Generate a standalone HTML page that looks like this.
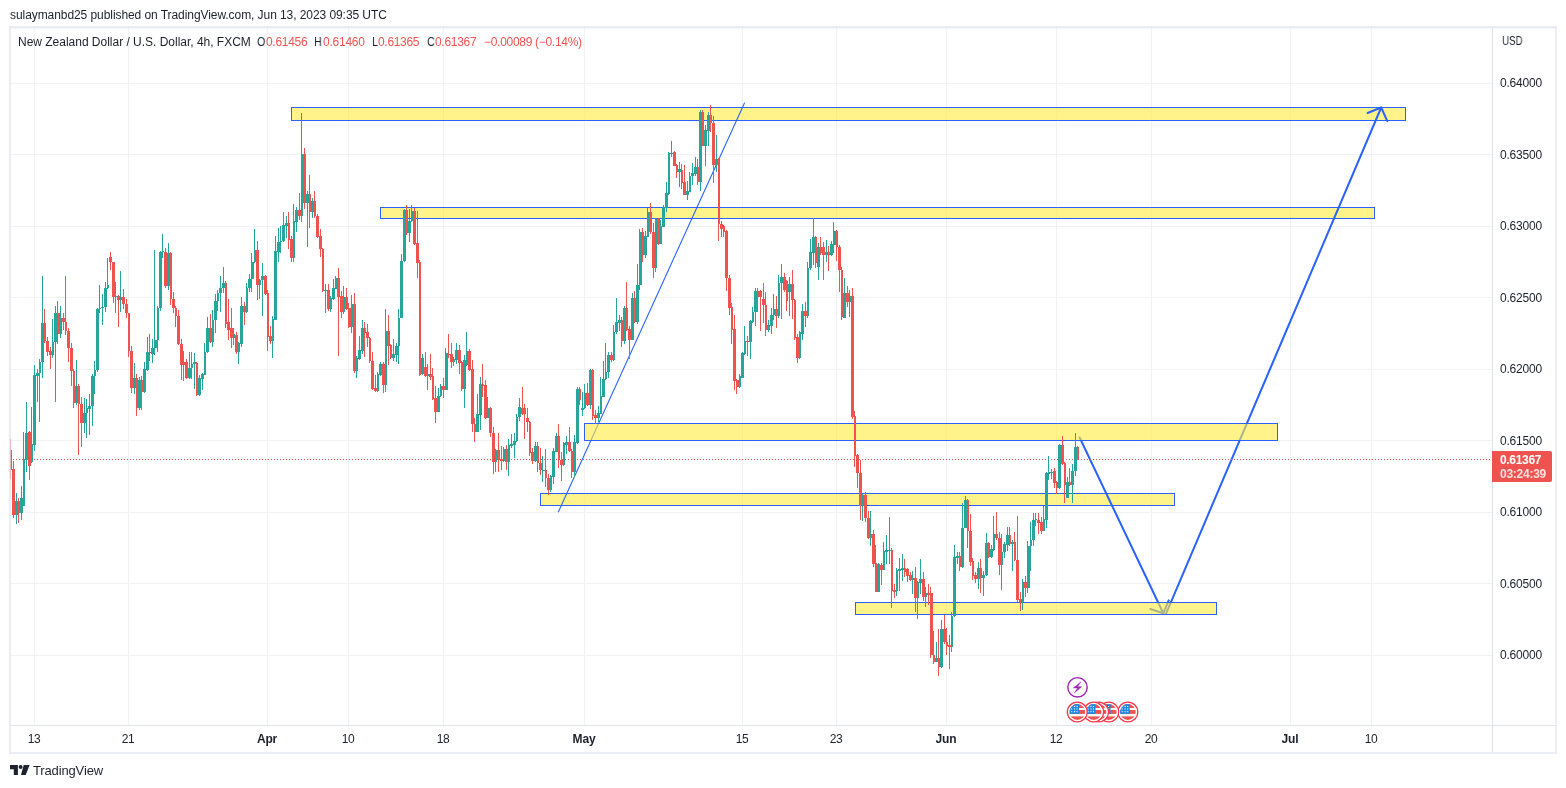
<!DOCTYPE html>
<html><head><meta charset="utf-8"><title>NZDUSD chart</title>
<style>
html,body{margin:0;padding:0;background:#fff;}
body{width:1566px;height:788px;position:relative;overflow:hidden;font-family:"Liberation Sans",sans-serif;}
#frame{position:absolute;left:9px;top:26px;width:1544px;height:724px;border:2px solid rgba(226,229,239,0.7);}
#ftop{position:absolute;left:11px;top:28px;width:1544px;height:1px;background:rgba(226,229,239,0.35);}
#vsep{position:absolute;left:1492px;top:28px;width:1px;height:724px;background:#e0e3eb;}
#hsep{position:absolute;left:11px;top:725px;width:1544px;height:1px;background:#e0e3eb;}
svg{position:absolute;left:0;top:0;}
.t{position:absolute;white-space:nowrap;line-height:normal;will-change:transform;}
.t.c{transform:translateX(-50%);}
#plabel{position:absolute;left:1492px;top:451px;width:60px;height:31px;background:#ef5350;border-radius:0 2px 2px 0;}
</style></head><body>
<svg width="1566" height="788" viewBox="0 0 1566 788">
<rect x="34" y="28" width="1" height="697" fill="#f0f2f4"/>
<rect x="128" y="28" width="1" height="697" fill="#f0f2f4"/>
<rect x="267" y="28" width="1" height="697" fill="#f0f2f4"/>
<rect x="348" y="28" width="1" height="697" fill="#f0f2f4"/>
<rect x="443" y="28" width="1" height="697" fill="#f0f2f4"/>
<rect x="584" y="28" width="1" height="697" fill="#f0f2f4"/>
<rect x="742" y="28" width="1" height="697" fill="#f0f2f4"/>
<rect x="836" y="28" width="1" height="697" fill="#f0f2f4"/>
<rect x="946" y="28" width="1" height="697" fill="#f0f2f4"/>
<rect x="1056" y="28" width="1" height="697" fill="#f0f2f4"/>
<rect x="1151" y="28" width="1" height="697" fill="#f0f2f4"/>
<rect x="1290" y="28" width="1" height="697" fill="#f0f2f4"/>
<rect x="1371" y="28" width="1" height="697" fill="#f0f2f4"/>
<rect x="11" y="83" width="1481" height="1" fill="#f0f2f4"/>
<rect x="11" y="154" width="1481" height="1" fill="#f0f2f4"/>
<rect x="11" y="226" width="1481" height="1" fill="#f0f2f4"/>
<rect x="11" y="297" width="1481" height="1" fill="#f0f2f4"/>
<rect x="11" y="369" width="1481" height="1" fill="#f0f2f4"/>
<rect x="11" y="440" width="1481" height="1" fill="#f0f2f4"/>
<rect x="11" y="512" width="1481" height="1" fill="#f0f2f4"/>
<rect x="11" y="583" width="1481" height="1" fill="#f0f2f4"/>
<rect x="11" y="655" width="1481" height="1" fill="#f0f2f4"/>
<rect x="540.5" y="493.5" width="634.0" height="12.0" fill="rgba(255,235,59,0.6)" stroke="#2962ff" stroke-width="1"/>
<rect x="291.5" y="107.5" width="1114.0" height="13.0" fill="rgba(255,235,59,0.6)" stroke="#2962ff" stroke-width="1"/>
<rect x="380.5" y="207.5" width="994.0" height="11.0" fill="rgba(255,235,59,0.6)" stroke="#2962ff" stroke-width="1"/>
<line x1="558.2" y1="512.3" x2="744.6" y2="102.7" stroke="#2962ff" stroke-width="1.1"/>
<g fill="none" stroke="#2962ff" stroke-width="2" stroke-linecap="round" stroke-linejoin="round"><path d="M1079.6 437.5L1163.3 613.3"/><path d="M1150.3 609L1163.3 613.3L1168.7 600.3"/><path d="M1166.2 613.3L1381.2 107.5"/><path d="M1367.6 113L1381.2 107.5L1387.3 121.2"/></g>
<rect x="584.5" y="423.5" width="693.0" height="17.0" fill="rgba(255,235,59,0.6)" stroke="#2962ff" stroke-width="1"/>
<rect x="855.5" y="602.5" width="361.0" height="12.0" fill="rgba(255,235,59,0.6)" stroke="#2962ff" stroke-width="1"/>
<line x1="13" y1="459.5" x2="1491" y2="459.5" stroke="#ef5350" stroke-width="1" stroke-dasharray="1 2" shape-rendering="crispEdges"/>
<g shape-rendering="crispEdges"><path fill="#ef5350" d="M10 439h1V479h-1zM10 450h2V470h-2z"/>
<path fill="#ef5350" d="M13 461h1V518h-1zM12 469h3V515h-3z"/>
<path fill="#26a69a" d="M16 493h1V524h-1zM15 501h3V515h-3z"/>
<path fill="#ef5350" d="M18 498h1V523h-1zM18 501h2V513h-2z"/>
<path fill="#26a69a" d="M21 486h1V520h-1zM20 498h3V513h-3z"/>
<path fill="#26a69a" d="M23 432h1V506h-1zM23 459h2V506h-2z"/>
<path fill="#26a69a" d="M26 402h1V472h-1zM25 433h3V460h-3z"/>
<path fill="#ef5350" d="M29 431h1V480h-1zM28 432h3V466h-3z"/>
<path fill="#26a69a" d="M31 407h1V463h-1zM31 444h2V462h-2z"/>
<path fill="#26a69a" d="M34 365h1V451h-1zM33 375h3V445h-3z"/>
<path fill="#26a69a" d="M37 369h1V402h-1zM36 373h3V376h-3z"/>
<path fill="#26a69a" d="M39 359h1V422h-1zM39 362h2V373h-2z"/>
<path fill="#26a69a" d="M42 276h1V378h-1zM41 323h3V362h-3z"/>
<path fill="#ef5350" d="M44 309h1V343h-1zM44 323h2V341h-2z"/>
<path fill="#ef5350" d="M47 337h1V356h-1zM46 341h3V352h-3z"/>
<path fill="#ef5350" d="M50 347h1V369h-1zM49 351h3V355h-3z"/>
<path fill="#26a69a" d="M52 319h1V358h-1zM52 342h2V355h-2z"/>
<path fill="#26a69a" d="M55 306h1V402h-1zM54 313h3V342h-3z"/>
<path fill="#ef5350" d="M57 301h1V344h-1zM57 313h3V334h-3z"/>
<path fill="#26a69a" d="M60 306h1V338h-1zM60 318h2V334h-2z"/>
<path fill="#ef5350" d="M63 313h1V330h-1zM62 318h3V322h-3z"/>
<path fill="#ef5350" d="M65 276h1V335h-1zM65 322h2V331h-2z"/>
<path fill="#ef5350" d="M68 328h1V362h-1zM67 331h3V348h-3z"/>
<path fill="#ef5350" d="M71 343h1V386h-1zM70 348h3V371h-3z"/>
<path fill="#ef5350" d="M73 369h1V408h-1zM73 371h2V403h-2z"/>
<path fill="#26a69a" d="M76 360h1V405h-1zM75 386h3V403h-3z"/>
<path fill="#ef5350" d="M78 384h1V455h-1zM78 386h2V404h-2z"/>
<path fill="#ef5350" d="M81 397h1V447h-1zM80 404h3V423h-3z"/>
<path fill="#26a69a" d="M84 398h1V433h-1zM83 413h3V423h-3z"/>
<path fill="#26a69a" d="M86 399h1V438h-1zM86 408h2V413h-2z"/>
<path fill="#26a69a" d="M89 394h1V435h-1zM88 406h3V409h-3z"/>
<path fill="#26a69a" d="M92 374h1V426h-1zM91 376h3V406h-3z"/>
<path fill="#26a69a" d="M94 361h1V394h-1zM94 370h2V376h-2z"/>
<path fill="#26a69a" d="M97 308h1V372h-1zM96 309h3V370h-3z"/>
<path fill="#26a69a" d="M99 285h1V313h-1zM99 308h2V309h-2z"/>
<path fill="#26a69a" d="M102 294h1V325h-1zM101 307h3V308h-3z"/>
<path fill="#26a69a" d="M105 282h1V312h-1zM104 288h3V307h-3z"/>
<path fill="#26a69a" d="M107 258h1V289h-1zM107 285h2V288h-2z"/>
<path fill="#ef5350" d="M110 252h1V270h-1zM109 257h3V262h-3z"/>
<path fill="#ef5350" d="M113 262h1V303h-1zM112 262h3V297h-3z"/>
<path fill="#26a69a" d="M115 282h1V313h-1zM115 296h2V297h-2z"/>
<path fill="#ef5350" d="M118 295h1V327h-1zM117 296h3V300h-3z"/>
<path fill="#26a69a" d="M120 271h1V312h-1zM120 297h2V300h-2z"/>
<path fill="#ef5350" d="M123 289h1V309h-1zM122 297h3V304h-3z"/>
<path fill="#ef5350" d="M126 299h1V318h-1zM125 304h3V313h-3z"/>
<path fill="#ef5350" d="M128 313h1V357h-1zM128 313h2V351h-2z"/>
<path fill="#ef5350" d="M131 346h1V393h-1zM130 351h3V388h-3z"/>
<path fill="#26a69a" d="M134 363h1V394h-1zM133 378h3V388h-3z"/>
<path fill="#ef5350" d="M136 374h1V416h-1zM136 378h2V408h-2z"/>
<path fill="#26a69a" d="M139 377h1V410h-1zM138 380h3V408h-3z"/>
<path fill="#ef5350" d="M141 376h1V410h-1zM141 380h2V392h-2z"/>
<path fill="#26a69a" d="M144 362h1V393h-1zM143 369h3V392h-3z"/>
<path fill="#26a69a" d="M147 337h1V371h-1zM146 352h3V370h-3z"/>
<path fill="#ef5350" d="M149 334h1V361h-1zM149 352h2V353h-2z"/>
<path fill="#26a69a" d="M152 339h1V363h-1zM151 348h3V354h-3z"/>
<path fill="#26a69a" d="M154 250h1V355h-1zM154 340h3V348h-3z"/>
<path fill="#26a69a" d="M157 306h1V352h-1zM157 308h2V340h-2z"/>
<path fill="#26a69a" d="M160 251h1V311h-1zM159 252h3V308h-3z"/>
<path fill="#26a69a" d="M162 234h1V258h-1zM162 251h2V252h-2z"/>
<path fill="#ef5350" d="M165 248h1V288h-1zM164 252h3V286h-3z"/>
<path fill="#26a69a" d="M168 243h1V290h-1zM167 253h3V286h-3z"/>
<path fill="#ef5350" d="M170 252h1V305h-1zM170 253h2V299h-2z"/>
<path fill="#ef5350" d="M173 292h1V313h-1zM172 299h3V308h-3z"/>
<path fill="#ef5350" d="M175 306h1V327h-1zM175 308h2V316h-2z"/>
<path fill="#ef5350" d="M178 310h1V345h-1zM177 316h3V344h-3z"/>
<path fill="#ef5350" d="M181 339h1V380h-1zM180 344h3V365h-3z"/>
<path fill="#ef5350" d="M183 351h1V381h-1zM183 362h2V365h-2z"/>
<path fill="#ef5350" d="M186 359h1V379h-1zM185 362h3V378h-3z"/>
<path fill="#26a69a" d="M189 352h1V379h-1zM188 368h3V378h-3z"/>
<path fill="#26a69a" d="M191 352h1V379h-1zM191 364h2V368h-2z"/>
<path fill="#26a69a" d="M194 353h1V389h-1zM193 362h3V364h-3z"/>
<path fill="#ef5350" d="M196 362h1V396h-1zM196 363h2V395h-2z"/>
<path fill="#26a69a" d="M199 375h1V396h-1zM198 378h3V395h-3z"/>
<path fill="#26a69a" d="M202 373h1V390h-1zM201 374h3V379h-3z"/>
<path fill="#26a69a" d="M204 343h1V375h-1zM204 352h2V375h-2z"/>
<path fill="#26a69a" d="M207 317h1V353h-1zM206 328h3V352h-3z"/>
<path fill="#ef5350" d="M210 314h1V343h-1zM209 328h3V342h-3z"/>
<path fill="#26a69a" d="M212 310h1V347h-1zM212 320h2V342h-2z"/>
<path fill="#26a69a" d="M215 294h1V333h-1zM214 301h3V320h-3z"/>
<path fill="#26a69a" d="M217 290h1V311h-1zM217 293h2V301h-2z"/>
<path fill="#26a69a" d="M220 276h1V312h-1zM219 288h3V293h-3z"/>
<path fill="#26a69a" d="M223 267h1V293h-1zM222 283h3V288h-3z"/>
<path fill="#ef5350" d="M225 281h1V328h-1zM225 283h2V324h-2z"/>
<path fill="#ef5350" d="M228 299h1V340h-1zM227 322h3V330h-3z"/>
<path fill="#ef5350" d="M231 308h1V348h-1zM230 328h3V338h-3z"/>
<path fill="#26a69a" d="M233 328h1V345h-1zM233 334h2V338h-2z"/>
<path fill="#ef5350" d="M236 332h1V354h-1zM235 335h3V352h-3z"/>
<path fill="#26a69a" d="M238 342h1V364h-1zM238 343h2V352h-2z"/>
<path fill="#26a69a" d="M241 297h1V347h-1zM240 306h3V344h-3z"/>
<path fill="#ef5350" d="M244 302h1V325h-1zM243 306h3V312h-3z"/>
<path fill="#26a69a" d="M246 283h1V313h-1zM246 288h2V312h-2z"/>
<path fill="#26a69a" d="M249 274h1V292h-1zM248 279h3V288h-3z"/>
<path fill="#26a69a" d="M251 253h1V292h-1zM251 262h3V279h-3z"/>
<path fill="#26a69a" d="M254 229h1V263h-1zM254 250h2V262h-2z"/>
<path fill="#ef5350" d="M257 241h1V300h-1zM256 250h3V285h-3z"/>
<path fill="#26a69a" d="M259 279h1V299h-1zM259 280h2V285h-2z"/>
<path fill="#26a69a" d="M262 263h1V316h-1zM261 276h3V280h-3z"/>
<path fill="#ef5350" d="M265 275h1V295h-1zM264 276h3V294h-3z"/>
<path fill="#ef5350" d="M267 290h1V351h-1zM267 293h2V337h-2z"/>
<path fill="#ef5350" d="M270 326h1V344h-1zM269 336h3V341h-3z"/>
<path fill="#26a69a" d="M272 316h1V358h-1zM272 319h2V341h-2z"/>
<path fill="#26a69a" d="M275 236h1V320h-1zM274 251h3V320h-3z"/>
<path fill="#26a69a" d="M278 228h1V262h-1zM277 242h3V252h-3z"/>
<path fill="#26a69a" d="M280 226h1V253h-1zM280 241h2V242h-2z"/>
<path fill="#26a69a" d="M283 212h1V242h-1zM282 225h3V241h-3z"/>
<path fill="#26a69a" d="M286 216h1V238h-1zM285 223h3V226h-3z"/>
<path fill="#ef5350" d="M288 212h1V249h-1zM288 223h2V240h-2z"/>
<path fill="#ef5350" d="M291 236h1V262h-1zM290 239h3V258h-3z"/>
<path fill="#26a69a" d="M293 204h1V262h-1zM293 221h2V258h-2z"/>
<path fill="#26a69a" d="M296 207h1V232h-1zM295 210h3V222h-3z"/>
<path fill="#ef5350" d="M299 193h1V220h-1zM298 210h3V216h-3z"/>
<path fill="#26a69a" d="M301 113h1V222h-1zM301 154h2V216h-2z"/>
<path fill="#ef5350" d="M304 148h1V209h-1zM303 154h3V203h-3z"/>
<path fill="#26a69a" d="M307 191h1V247h-1zM306 194h3V203h-3z"/>
<path fill="#ef5350" d="M309 175h1V228h-1zM309 194h2V212h-2z"/>
<path fill="#26a69a" d="M312 198h1V218h-1zM311 201h3V212h-3z"/>
<path fill="#ef5350" d="M314 191h1V218h-1zM314 201h2V216h-2z"/>
<path fill="#ef5350" d="M317 214h1V238h-1zM316 216h3V237h-3z"/>
<path fill="#ef5350" d="M320 229h1V257h-1zM319 236h3V249h-3z"/>
<path fill="#ef5350" d="M322 248h1V292h-1zM322 249h2V291h-2z"/>
<path fill="#26a69a" d="M325 284h1V313h-1zM324 290h3V291h-3z"/>
<path fill="#ef5350" d="M328 284h1V311h-1zM327 290h3V309h-3z"/>
<path fill="#26a69a" d="M330 296h1V312h-1zM330 298h2V309h-2z"/>
<path fill="#26a69a" d="M333 279h1V300h-1zM332 288h3V299h-3z"/>
<path fill="#26a69a" d="M335 276h1V289h-1zM335 278h2V289h-2z"/>
<path fill="#ef5350" d="M338 268h1V356h-1zM337 278h3V297h-3z"/>
<path fill="#ef5350" d="M341 291h1V318h-1zM340 296h3V312h-3z"/>
<path fill="#26a69a" d="M343 286h1V314h-1zM343 297h2V312h-2z"/>
<path fill="#ef5350" d="M346 288h1V310h-1zM345 297h3V309h-3z"/>
<path fill="#ef5350" d="M348 303h1V328h-1zM348 308h3V327h-3z"/>
<path fill="#26a69a" d="M351 295h1V333h-1zM351 304h2V327h-2z"/>
<path fill="#ef5350" d="M354 293h1V373h-1zM353 304h3V371h-3z"/>
<path fill="#26a69a" d="M356 356h1V378h-1zM356 358h2V371h-2z"/>
<path fill="#26a69a" d="M359 336h1V360h-1zM358 350h3V359h-3z"/>
<path fill="#26a69a" d="M362 320h1V354h-1zM361 328h3V351h-3z"/>
<path fill="#ef5350" d="M364 322h1V357h-1zM364 328h2V333h-2z"/>
<path fill="#ef5350" d="M367 324h1V347h-1zM366 332h3V338h-3z"/>
<path fill="#ef5350" d="M369 337h1V363h-1zM369 338h2V361h-2z"/>
<path fill="#ef5350" d="M372 352h1V390h-1zM371 361h3V389h-3z"/>
<path fill="#ef5350" d="M375 375h1V392h-1zM374 388h3V391h-3z"/>
<path fill="#26a69a" d="M377 372h1V392h-1zM377 374h2V391h-2z"/>
<path fill="#26a69a" d="M380 362h1V376h-1zM379 364h3V375h-3z"/>
<path fill="#ef5350" d="M383 362h1V393h-1zM382 364h3V385h-3z"/>
<path fill="#26a69a" d="M385 309h1V392h-1zM385 331h2V385h-2z"/>
<path fill="#ef5350" d="M388 315h1V365h-1zM387 331h3V346h-3z"/>
<path fill="#ef5350" d="M390 344h1V359h-1zM390 345h2V358h-2z"/>
<path fill="#26a69a" d="M393 339h1V361h-1zM392 354h3V358h-3z"/>
<path fill="#26a69a" d="M396 343h1V362h-1zM395 346h3V355h-3z"/>
<path fill="#26a69a" d="M398 309h1V364h-1zM398 318h2V346h-2z"/>
<path fill="#26a69a" d="M401 254h1V318h-1zM400 261h3V318h-3z"/>
<path fill="#26a69a" d="M404 209h1V262h-1zM403 210h3V261h-3z"/>
<path fill="#ef5350" d="M406 205h1V235h-1zM406 210h2V233h-2z"/>
<path fill="#26a69a" d="M409 209h1V242h-1zM408 221h3V233h-3z"/>
<path fill="#26a69a" d="M411 205h1V222h-1zM411 211h2V221h-2z"/>
<path fill="#ef5350" d="M414 208h1V245h-1zM413 211h3V244h-3z"/>
<path fill="#ef5350" d="M417 211h1V278h-1zM416 243h3V263h-3z"/>
<path fill="#ef5350" d="M419 260h1V376h-1zM419 262h2V375h-2z"/>
<path fill="#26a69a" d="M422 354h1V375h-1zM421 358h3V374h-3z"/>
<path fill="#ef5350" d="M425 352h1V377h-1zM424 367h3V376h-3z"/>
<path fill="#26a69a" d="M427 364h1V390h-1zM427 374h2V376h-2z"/>
<path fill="#ef5350" d="M430 354h1V380h-1zM429 374h3V377h-3z"/>
<path fill="#ef5350" d="M432 368h1V400h-1zM432 376h2V399h-2z"/>
<path fill="#ef5350" d="M435 386h1V423h-1zM434 398h3V412h-3z"/>
<path fill="#26a69a" d="M438 388h1V412h-1zM437 396h3V412h-3z"/>
<path fill="#26a69a" d="M440 384h1V397h-1zM440 386h2V396h-2z"/>
<path fill="#ef5350" d="M443 378h1V398h-1zM442 386h3V390h-3z"/>
<path fill="#26a69a" d="M445 348h1V390h-1zM445 353h3V390h-3z"/>
<path fill="#ef5350" d="M448 334h1V358h-1zM448 354h2V355h-2z"/>
<path fill="#ef5350" d="M451 343h1V368h-1zM450 354h3V362h-3z"/>
<path fill="#26a69a" d="M453 357h1V366h-1zM453 359h2V362h-2z"/>
<path fill="#26a69a" d="M456 343h1V364h-1zM455 350h3V360h-3z"/>
<path fill="#ef5350" d="M459 345h1V374h-1zM458 350h3V363h-3z"/>
<path fill="#ef5350" d="M461 361h1V391h-1zM461 362h2V389h-2z"/>
<path fill="#26a69a" d="M464 355h1V408h-1zM463 360h3V389h-3z"/>
<path fill="#26a69a" d="M466 332h1V366h-1zM466 351h2V365h-2z"/>
<path fill="#ef5350" d="M469 349h1V371h-1zM468 351h3V370h-3z"/>
<path fill="#ef5350" d="M472 360h1V432h-1zM471 369h3V424h-3z"/>
<path fill="#ef5350" d="M474 418h1V442h-1zM474 424h2V432h-2z"/>
<path fill="#26a69a" d="M477 394h1V432h-1zM476 414h3V432h-3z"/>
<path fill="#26a69a" d="M480 377h1V430h-1zM479 384h3V415h-3z"/>
<path fill="#ef5350" d="M482 364h1V397h-1zM482 384h2V386h-2z"/>
<path fill="#ef5350" d="M485 380h1V419h-1zM484 385h3V418h-3z"/>
<path fill="#26a69a" d="M487 397h1V418h-1zM487 408h2V418h-2z"/>
<path fill="#ef5350" d="M490 407h1V437h-1zM489 408h3V433h-3z"/>
<path fill="#ef5350" d="M493 427h1V474h-1zM492 433h3V462h-3z"/>
<path fill="#26a69a" d="M495 449h1V472h-1zM495 450h2V462h-2z"/>
<path fill="#ef5350" d="M498 433h1V472h-1zM497 450h3V460h-3z"/>
<path fill="#ef5350" d="M501 446h1V470h-1zM500 459h3V461h-3z"/>
<path fill="#26a69a" d="M503 447h1V462h-1zM503 449h2V461h-2z"/>
<path fill="#ef5350" d="M506 445h1V470h-1zM505 449h3V462h-3z"/>
<path fill="#26a69a" d="M508 439h1V476h-1zM508 445h2V462h-2z"/>
<path fill="#26a69a" d="M511 434h1V448h-1zM510 444h3V446h-3z"/>
<path fill="#26a69a" d="M514 433h1V458h-1zM513 441h3V445h-3z"/>
<path fill="#26a69a" d="M516 414h1V442h-1zM516 417h2V441h-2z"/>
<path fill="#26a69a" d="M519 398h1V421h-1zM518 407h3V417h-3z"/>
<path fill="#ef5350" d="M522 387h1V415h-1zM521 408h3V414h-3z"/>
<path fill="#ef5350" d="M524 404h1V439h-1zM524 408h2V414h-2z"/>
<path fill="#ef5350" d="M527 408h1V432h-1zM526 418h3V422h-3z"/>
<path fill="#ef5350" d="M529 421h1V456h-1zM529 422h2V453h-2z"/>
<path fill="#ef5350" d="M532 448h1V464h-1zM531 452h3V461h-3z"/>
<path fill="#26a69a" d="M535 442h1V462h-1zM534 446h3V461h-3z"/>
<path fill="#ef5350" d="M537 442h1V472h-1zM537 446h2V463h-2z"/>
<path fill="#ef5350" d="M540 448h1V475h-1zM539 463h3V470h-3z"/>
<path fill="#26a69a" d="M542 456h1V482h-1zM542 470h3V471h-3z"/>
<path fill="#ef5350" d="M545 449h1V487h-1zM545 470h2V478h-2z"/>
<path fill="#ef5350" d="M548 474h1V495h-1zM547 478h3V490h-3z"/>
<path fill="#26a69a" d="M550 475h1V492h-1zM550 476h2V490h-2z"/>
<path fill="#26a69a" d="M553 448h1V484h-1zM552 451h3V477h-3z"/>
<path fill="#26a69a" d="M556 433h1V452h-1zM555 436h3V452h-3z"/>
<path fill="#ef5350" d="M558 424h1V468h-1zM558 436h2V460h-2z"/>
<path fill="#ef5350" d="M561 452h1V481h-1zM560 460h3V465h-3z"/>
<path fill="#26a69a" d="M563 442h1V466h-1zM563 443h2V465h-2z"/>
<path fill="#26a69a" d="M566 436h1V454h-1zM565 442h3V445h-3z"/>
<path fill="#ef5350" d="M569 427h1V452h-1zM568 442h3V451h-3z"/>
<path fill="#ef5350" d="M571 449h1V478h-1zM571 451h2V472h-2z"/>
<path fill="#26a69a" d="M574 435h1V477h-1zM573 442h3V472h-3z"/>
<path fill="#26a69a" d="M577 387h1V444h-1zM576 389h3V443h-3z"/>
<path fill="#ef5350" d="M579 387h1V405h-1zM579 389h2V400h-2z"/>
<path fill="#26a69a" d="M582 392h1V416h-1zM581 408h3V410h-3z"/>
<path fill="#26a69a" d="M584 384h1V409h-1zM584 393h2V408h-2z"/>
<path fill="#ef5350" d="M587 383h1V406h-1zM586 393h3V405h-3z"/>
<path fill="#26a69a" d="M590 369h1V409h-1zM589 370h3V405h-3z"/>
<path fill="#ef5350" d="M592 369h1V420h-1zM592 370h2V416h-2z"/>
<path fill="#ef5350" d="M595 410h1V424h-1zM594 415h3V418h-3z"/>
<path fill="#26a69a" d="M598 406h1V422h-1zM597 413h3V418h-3z"/>
<path fill="#26a69a" d="M600 377h1V414h-1zM600 396h2V414h-2z"/>
<path fill="#26a69a" d="M603 361h1V397h-1zM602 379h3V397h-3z"/>
<path fill="#26a69a" d="M605 343h1V380h-1zM605 372h2V379h-2z"/>
<path fill="#26a69a" d="M608 352h1V378h-1zM607 355h3V372h-3z"/>
<path fill="#ef5350" d="M611 352h1V362h-1zM610 355h3V360h-3z"/>
<path fill="#26a69a" d="M613 325h1V361h-1zM613 332h2V360h-2z"/>
<path fill="#26a69a" d="M616 298h1V334h-1zM615 322h3V332h-3z"/>
<path fill="#26a69a" d="M619 315h1V331h-1zM618 320h3V323h-3z"/>
<path fill="#ef5350" d="M621 317h1V347h-1zM621 320h2V341h-2z"/>
<path fill="#26a69a" d="M624 306h1V344h-1zM623 308h3V341h-3z"/>
<path fill="#ef5350" d="M626 282h1V331h-1zM626 308h2V330h-2z"/>
<path fill="#ef5350" d="M629 326h1V359h-1zM628 329h3V340h-3z"/>
<path fill="#26a69a" d="M632 293h1V340h-1zM631 298h3V340h-3z"/>
<path fill="#ef5350" d="M634 291h1V323h-1zM634 298h2V322h-2z"/>
<path fill="#26a69a" d="M637 264h1V324h-1zM636 285h3V322h-3z"/>
<path fill="#26a69a" d="M639 229h1V290h-1zM639 232h3V285h-3z"/>
<path fill="#ef5350" d="M642 228h1V262h-1zM642 232h2V255h-2z"/>
<path fill="#26a69a" d="M645 231h1V258h-1zM644 236h3V255h-3z"/>
<path fill="#26a69a" d="M647 208h1V237h-1zM647 212h2V237h-2z"/>
<path fill="#ef5350" d="M650 203h1V234h-1zM649 212h3V232h-3z"/>
<path fill="#ef5350" d="M653 223h1V278h-1zM652 232h3V268h-3z"/>
<path fill="#26a69a" d="M655 218h1V272h-1zM655 219h2V268h-2z"/>
<path fill="#ef5350" d="M658 218h1V245h-1zM657 219h3V244h-3z"/>
<path fill="#26a69a" d="M660 220h1V244h-1zM660 226h2V244h-2z"/>
<path fill="#26a69a" d="M663 205h1V227h-1zM662 207h3V227h-3z"/>
<path fill="#26a69a" d="M666 182h1V212h-1zM665 193h3V208h-3z"/>
<path fill="#26a69a" d="M668 152h1V195h-1zM668 153h2V194h-2z"/>
<path fill="#26a69a" d="M671 141h1V157h-1zM670 153h3V154h-3z"/>
<path fill="#ef5350" d="M674 151h1V166h-1zM673 152h3V166h-3z"/>
<path fill="#ef5350" d="M676 164h1V178h-1zM676 165h2V172h-2z"/>
<path fill="#26a69a" d="M679 162h1V187h-1zM678 169h3V172h-3z"/>
<path fill="#ef5350" d="M681 164h1V189h-1zM681 170h2V183h-2z"/>
<path fill="#ef5350" d="M684 165h1V195h-1zM683 182h3V195h-3z"/>
<path fill="#26a69a" d="M687 181h1V200h-1zM686 191h3V195h-3z"/>
<path fill="#26a69a" d="M689 172h1V192h-1zM689 176h2V192h-2z"/>
<path fill="#26a69a" d="M692 163h1V185h-1zM691 173h3V176h-3z"/>
<path fill="#26a69a" d="M695 157h1V176h-1zM694 167h3V174h-3z"/>
<path fill="#ef5350" d="M697 159h1V185h-1zM697 167h2V182h-2z"/>
<path fill="#26a69a" d="M700 110h1V191h-1zM699 112h3V182h-3z"/>
<path fill="#ef5350" d="M702 110h1V146h-1zM702 112h2V146h-2z"/>
<path fill="#26a69a" d="M705 125h1V166h-1zM704 130h3V146h-3z"/>
<path fill="#26a69a" d="M708 112h1V146h-1zM707 115h3V131h-3z"/>
<path fill="#ef5350" d="M710 105h1V132h-1zM710 115h2V123h-2z"/>
<path fill="#ef5350" d="M713 116h1V183h-1zM712 123h3V165h-3z"/>
<path fill="#26a69a" d="M716 135h1V172h-1zM715 159h3V165h-3z"/>
<path fill="#ef5350" d="M718 158h1V241h-1zM718 159h2V224h-2z"/>
<path fill="#ef5350" d="M721 221h1V237h-1zM720 224h3V229h-3z"/>
<path fill="#ef5350" d="M723 225h1V237h-1zM723 226h2V232h-2z"/>
<path fill="#ef5350" d="M726 230h1V291h-1zM725 231h3V278h-3z"/>
<path fill="#ef5350" d="M729 275h1V315h-1zM728 278h3V308h-3z"/>
<path fill="#ef5350" d="M731 303h1V344h-1zM731 307h2V330h-2z"/>
<path fill="#ef5350" d="M734 315h1V390h-1zM733 329h3V381h-3z"/>
<path fill="#ef5350" d="M736 379h1V394h-1zM736 380h3V387h-3z"/>
<path fill="#26a69a" d="M739 374h1V388h-1zM739 376h2V387h-2z"/>
<path fill="#26a69a" d="M742 352h1V378h-1zM741 353h3V378h-3z"/>
<path fill="#26a69a" d="M744 326h1V355h-1zM744 341h2V354h-2z"/>
<path fill="#ef5350" d="M747 336h1V356h-1zM746 341h3V342h-3z"/>
<path fill="#26a69a" d="M750 320h1V359h-1zM749 321h3V342h-3z"/>
<path fill="#26a69a" d="M752 307h1V323h-1zM752 312h2V322h-2z"/>
<path fill="#26a69a" d="M755 288h1V326h-1zM754 291h3V312h-3z"/>
<path fill="#ef5350" d="M757 288h1V312h-1zM757 291h2V297h-2z"/>
<path fill="#ef5350" d="M760 290h1V331h-1zM759 291h3V297h-3z"/>
<path fill="#ef5350" d="M763 283h1V323h-1zM762 299h3V305h-3z"/>
<path fill="#ef5350" d="M765 292h1V336h-1zM765 305h2V330h-2z"/>
<path fill="#26a69a" d="M768 320h1V332h-1zM767 325h3V330h-3z"/>
<path fill="#26a69a" d="M771 308h1V334h-1zM770 315h3V326h-3z"/>
<path fill="#26a69a" d="M773 294h1V320h-1zM773 309h2V315h-2z"/>
<path fill="#ef5350" d="M776 296h1V328h-1zM775 309h3V316h-3z"/>
<path fill="#26a69a" d="M778 275h1V318h-1zM778 283h2V316h-2z"/>
<path fill="#26a69a" d="M781 264h1V319h-1zM780 277h3V283h-3z"/>
<path fill="#ef5350" d="M784 273h1V292h-1zM783 277h3V290h-3z"/>
<path fill="#ef5350" d="M786 280h1V311h-1zM786 281h2V301h-2z"/>
<path fill="#26a69a" d="M789 277h1V316h-1zM788 284h3V292h-3z"/>
<path fill="#ef5350" d="M792 270h1V319h-1zM791 284h3V300h-3z"/>
<path fill="#ef5350" d="M794 299h1V340h-1zM794 300h2V338h-2z"/>
<path fill="#ef5350" d="M797 334h1V363h-1zM796 337h3V358h-3z"/>
<path fill="#26a69a" d="M799 331h1V359h-1zM799 332h2V358h-2z"/>
<path fill="#26a69a" d="M802 304h1V340h-1zM801 311h3V334h-3z"/>
<path fill="#ef5350" d="M805 302h1V327h-1zM804 311h3V316h-3z"/>
<path fill="#26a69a" d="M807 262h1V318h-1zM807 268h2V316h-2z"/>
<path fill="#26a69a" d="M810 239h1V270h-1zM809 252h3V268h-3z"/>
<path fill="#26a69a" d="M813 218h1V265h-1zM812 237h3V253h-3z"/>
<path fill="#ef5350" d="M815 236h1V268h-1zM815 237h2V263h-2z"/>
<path fill="#26a69a" d="M818 243h1V280h-1zM817 247h3V267h-3z"/>
<path fill="#ef5350" d="M820 237h1V255h-1zM820 247h2V253h-2z"/>
<path fill="#ef5350" d="M823 242h1V280h-1zM822 247h3V255h-3z"/>
<path fill="#26a69a" d="M826 240h1V262h-1zM825 252h3V255h-3z"/>
<path fill="#ef5350" d="M828 246h1V271h-1zM828 252h2V255h-2z"/>
<path fill="#26a69a" d="M831 241h1V256h-1zM830 244h3V255h-3z"/>
<path fill="#26a69a" d="M833 222h1V253h-1zM833 231h3V245h-3z"/>
<path fill="#ef5350" d="M836 230h1V261h-1zM836 231h2V247h-2z"/>
<path fill="#ef5350" d="M839 245h1V292h-1zM838 247h3V270h-3z"/>
<path fill="#ef5350" d="M841 267h1V320h-1zM841 270h2V317h-2z"/>
<path fill="#26a69a" d="M844 278h1V318h-1zM843 293h3V318h-3z"/>
<path fill="#ef5350" d="M847 286h1V307h-1zM846 293h3V302h-3z"/>
<path fill="#26a69a" d="M849 290h1V317h-1zM849 296h2V302h-2z"/>
<path fill="#ef5350" d="M852 288h1V419h-1zM851 296h3V417h-3z"/>
<path fill="#ef5350" d="M854 411h1V467h-1zM854 416h2V456h-2z"/>
<path fill="#ef5350" d="M857 454h1V488h-1zM856 455h3V473h-3z"/>
<path fill="#ef5350" d="M860 460h1V520h-1zM859 473h3V506h-3z"/>
<path fill="#26a69a" d="M862 494h1V521h-1zM862 495h2V506h-2z"/>
<path fill="#ef5350" d="M865 492h1V522h-1zM864 495h3V518h-3z"/>
<path fill="#ef5350" d="M868 511h1V539h-1zM867 518h3V538h-3z"/>
<path fill="#26a69a" d="M870 511h1V546h-1zM870 534h2V538h-2z"/>
<path fill="#ef5350" d="M873 530h1V567h-1zM872 534h3V564h-3z"/>
<path fill="#ef5350" d="M875 545h1V592h-1zM875 563h2V592h-2z"/>
<path fill="#26a69a" d="M878 563h1V592h-1zM877 564h3V592h-3z"/>
<path fill="#ef5350" d="M881 563h1V585h-1zM880 565h3V570h-3z"/>
<path fill="#26a69a" d="M883 542h1V570h-1zM883 551h2V570h-2z"/>
<path fill="#26a69a" d="M886 535h1V564h-1zM885 550h3V552h-3z"/>
<path fill="#26a69a" d="M889 517h1V564h-1zM888 550h3V551h-3z"/>
<path fill="#ef5350" d="M891 548h1V608h-1zM891 550h2V591h-2z"/>
<path fill="#ef5350" d="M894 584h1V598h-1zM893 590h3V592h-3z"/>
<path fill="#26a69a" d="M896 568h1V596h-1zM896 570h2V591h-2z"/>
<path fill="#26a69a" d="M899 558h1V591h-1zM898 569h3V571h-3z"/>
<path fill="#26a69a" d="M902 554h1V581h-1zM901 568h3V570h-3z"/>
<path fill="#ef5350" d="M904 559h1V577h-1zM904 568h2V572h-2z"/>
<path fill="#ef5350" d="M907 568h1V582h-1zM906 569h3V576h-3z"/>
<path fill="#ef5350" d="M910 572h1V581h-1zM909 575h3V580h-3z"/>
<path fill="#26a69a" d="M912 571h1V594h-1zM912 578h2V580h-2z"/>
<path fill="#ef5350" d="M915 567h1V612h-1zM914 578h3V598h-3z"/>
<path fill="#26a69a" d="M917 581h1V619h-1zM917 582h2V598h-2z"/>
<path fill="#26a69a" d="M920 559h1V594h-1zM919 579h3V583h-3z"/>
<path fill="#ef5350" d="M923 572h1V601h-1zM922 579h3V597h-3z"/>
<path fill="#26a69a" d="M925 587h1V607h-1zM925 593h2V597h-2z"/>
<path fill="#ef5350" d="M928 584h1V605h-1zM927 593h3V595h-3z"/>
<path fill="#ef5350" d="M930 587h1V658h-1zM930 593h3V655h-3z"/>
<path fill="#ef5350" d="M933 631h1V664h-1zM933 655h2V662h-2z"/>
<path fill="#26a69a" d="M936 642h1V662h-1zM935 658h3V662h-3z"/>
<path fill="#ef5350" d="M938 629h1V676h-1zM938 658h2V667h-2z"/>
<path fill="#26a69a" d="M941 620h1V668h-1zM940 629h3V667h-3z"/>
<path fill="#ef5350" d="M944 615h1V644h-1zM943 629h3V642h-3z"/>
<path fill="#ef5350" d="M946 628h1V655h-1zM946 642h2V646h-2z"/>
<path fill="#ef5350" d="M949 635h1V669h-1zM948 645h3V647h-3z"/>
<path fill="#26a69a" d="M951 612h1V652h-1zM951 616h2V647h-2z"/>
<path fill="#26a69a" d="M954 545h1V617h-1zM953 557h3V616h-3z"/>
<path fill="#26a69a" d="M957 552h1V564h-1zM956 556h3V558h-3z"/>
<path fill="#ef5350" d="M959 552h1V571h-1zM959 556h2V567h-2z"/>
<path fill="#26a69a" d="M962 503h1V568h-1zM961 528h3V567h-3z"/>
<path fill="#26a69a" d="M965 496h1V528h-1zM964 500h3V528h-3z"/>
<path fill="#ef5350" d="M967 499h1V548h-1zM967 500h2V531h-2z"/>
<path fill="#ef5350" d="M970 514h1V566h-1zM969 531h3V562h-3z"/>
<path fill="#ef5350" d="M972 558h1V580h-1zM972 561h2V576h-2z"/>
<path fill="#ef5350" d="M975 572h1V583h-1zM974 575h3V579h-3z"/>
<path fill="#26a69a" d="M978 562h1V589h-1zM977 568h3V579h-3z"/>
<path fill="#ef5350" d="M980 559h1V593h-1zM980 568h2V578h-2z"/>
<path fill="#26a69a" d="M983 571h1V596h-1zM982 575h3V578h-3z"/>
<path fill="#26a69a" d="M986 533h1V576h-1zM985 543h3V575h-3z"/>
<path fill="#ef5350" d="M988 542h1V558h-1zM988 543h2V557h-2z"/>
<path fill="#26a69a" d="M991 545h1V558h-1zM990 549h3V557h-3z"/>
<path fill="#26a69a" d="M993 516h1V551h-1zM993 534h2V550h-2z"/>
<path fill="#ef5350" d="M996 512h1V540h-1zM995 534h3V538h-3z"/>
<path fill="#ef5350" d="M999 532h1V575h-1zM998 538h3V565h-3z"/>
<path fill="#26a69a" d="M1001 534h1V590h-1zM1001 552h2V565h-2z"/>
<path fill="#26a69a" d="M1004 542h1V558h-1zM1003 544h3V552h-3z"/>
<path fill="#26a69a" d="M1007 527h1V551h-1zM1006 535h3V545h-3z"/>
<path fill="#ef5350" d="M1009 527h1V546h-1zM1009 535h2V544h-2z"/>
<path fill="#26a69a" d="M1012 540h1V571h-1zM1011 542h3V544h-3z"/>
<path fill="#ef5350" d="M1014 532h1V561h-1zM1014 542h2V560h-2z"/>
<path fill="#ef5350" d="M1017 516h1V602h-1zM1016 560h3V600h-3z"/>
<path fill="#ef5350" d="M1020 592h1V611h-1zM1019 599h3V602h-3z"/>
<path fill="#26a69a" d="M1022 579h1V610h-1zM1022 582h2V602h-2z"/>
<path fill="#ef5350" d="M1025 576h1V597h-1zM1024 582h3V588h-3z"/>
<path fill="#26a69a" d="M1027 541h1V593h-1zM1027 546h3V588h-3z"/>
<path fill="#26a69a" d="M1030 522h1V571h-1zM1030 540h2V546h-2z"/>
<path fill="#26a69a" d="M1033 513h1V546h-1zM1032 520h3V540h-3z"/>
<path fill="#26a69a" d="M1035 513h1V526h-1zM1035 519h2V520h-2z"/>
<path fill="#ef5350" d="M1038 513h1V534h-1zM1037 520h3V523h-3z"/>
<path fill="#ef5350" d="M1041 517h1V534h-1zM1040 522h3V531h-3z"/>
<path fill="#26a69a" d="M1043 506h1V531h-1zM1043 519h2V531h-2z"/>
<path fill="#26a69a" d="M1046 472h1V528h-1zM1045 473h3V520h-3z"/>
<path fill="#26a69a" d="M1048 456h1V480h-1zM1048 472h2V474h-2z"/>
<path fill="#26a69a" d="M1051 469h1V479h-1zM1050 472h3V473h-3z"/>
<path fill="#ef5350" d="M1054 468h1V488h-1zM1053 471h3V483h-3z"/>
<path fill="#ef5350" d="M1056 481h1V494h-1zM1056 482h2V488h-2z"/>
<path fill="#26a69a" d="M1059 444h1V489h-1zM1058 445h3V488h-3z"/>
<path fill="#ef5350" d="M1062 436h1V465h-1zM1061 445h3V464h-3z"/>
<path fill="#ef5350" d="M1064 462h1V503h-1zM1064 463h2V485h-2z"/>
<path fill="#26a69a" d="M1067 477h1V498h-1zM1066 482h3V498h-3z"/>
<path fill="#ef5350" d="M1069 468h1V486h-1zM1069 482h2V485h-2z"/>
<path fill="#26a69a" d="M1072 464h1V503h-1zM1071 471h3V485h-3z"/>
<path fill="#26a69a" d="M1075 433h1V476h-1zM1074 447h3V471h-3z"/>
<path fill="#ef5350" d="M1077 446h1V460h-1zM1077 447h2V460h-2z"/></g>
<circle cx="1127.9" cy="712.0" r="9.95" fill="#fff" stroke="#f23645" stroke-width="1.3"/><clipPath id="c11279"><circle cx="1127.9" cy="712.0" r="7.9"/></clipPath><g clip-path="url(#c11279)"><rect x="1119.9" y="703.8" width="16" height="16.4" fill="#fff"/><rect x="1119.9" y="703.8" width="16" height="4.2" fill="#ef5350"/><rect x="1119.9" y="710.0" width="16" height="3.9" fill="#ef5350"/><rect x="1119.9" y="716.4" width="16" height="3.8" fill="#ef5350"/><rect x="1119.9" y="703.8" width="9.8" height="10.1" fill="#1e88e5"/><rect x="1121.7" y="705.9" width="1.1" height="1.1" fill="#fff"/><rect x="1124.6" y="705.9" width="1.1" height="1.1" fill="#fff"/><rect x="1127.1" y="705.9" width="1.1" height="1.1" fill="#fff"/><rect x="1121.7" y="708.4" width="1.1" height="1.1" fill="#fff"/><rect x="1124.6" y="708.4" width="1.1" height="1.1" fill="#fff"/><rect x="1127.1" y="708.4" width="1.1" height="1.1" fill="#fff"/><rect x="1121.7" y="711.1" width="1.1" height="1.1" fill="#fff"/><rect x="1124.6" y="711.1" width="1.1" height="1.1" fill="#fff"/><rect x="1127.1" y="711.1" width="1.1" height="1.1" fill="#fff"/></g>
<circle cx="1108.8" cy="712.0" r="9.95" fill="#fff" stroke="#f23645" stroke-width="1.3"/><clipPath id="c11088"><circle cx="1108.8" cy="712.0" r="7.9"/></clipPath><g clip-path="url(#c11088)"><rect x="1100.8" y="703.8" width="16" height="16.4" fill="#fff"/><rect x="1100.8" y="703.8" width="16" height="4.2" fill="#ef5350"/><rect x="1100.8" y="710.0" width="16" height="3.9" fill="#ef5350"/><rect x="1100.8" y="716.4" width="16" height="3.8" fill="#ef5350"/><rect x="1100.8" y="703.8" width="9.8" height="10.1" fill="#1e88e5"/><rect x="1102.6" y="705.9" width="1.1" height="1.1" fill="#fff"/><rect x="1105.5" y="705.9" width="1.1" height="1.1" fill="#fff"/><rect x="1108.0" y="705.9" width="1.1" height="1.1" fill="#fff"/><rect x="1102.6" y="708.4" width="1.1" height="1.1" fill="#fff"/><rect x="1105.5" y="708.4" width="1.1" height="1.1" fill="#fff"/><rect x="1108.0" y="708.4" width="1.1" height="1.1" fill="#fff"/><rect x="1102.6" y="711.1" width="1.1" height="1.1" fill="#fff"/><rect x="1105.5" y="711.1" width="1.1" height="1.1" fill="#fff"/><rect x="1108.0" y="711.1" width="1.1" height="1.1" fill="#fff"/></g>
<circle cx="1098.6" cy="712.0" r="9.95" fill="#fff" stroke="#f23645" stroke-width="1.3"/><clipPath id="c10986"><circle cx="1098.6" cy="712.0" r="7.9"/></clipPath><g clip-path="url(#c10986)"><rect x="1090.6" y="703.8" width="16" height="16.4" fill="#fff"/><rect x="1090.6" y="703.8" width="16" height="4.2" fill="#ef5350"/><rect x="1090.6" y="710.0" width="16" height="3.9" fill="#ef5350"/><rect x="1090.6" y="716.4" width="16" height="3.8" fill="#ef5350"/><rect x="1090.6" y="703.8" width="9.8" height="10.1" fill="#1e88e5"/><rect x="1092.4" y="705.9" width="1.1" height="1.1" fill="#fff"/><rect x="1095.3" y="705.9" width="1.1" height="1.1" fill="#fff"/><rect x="1097.8" y="705.9" width="1.1" height="1.1" fill="#fff"/><rect x="1092.4" y="708.4" width="1.1" height="1.1" fill="#fff"/><rect x="1095.3" y="708.4" width="1.1" height="1.1" fill="#fff"/><rect x="1097.8" y="708.4" width="1.1" height="1.1" fill="#fff"/><rect x="1092.4" y="711.1" width="1.1" height="1.1" fill="#fff"/><rect x="1095.3" y="711.1" width="1.1" height="1.1" fill="#fff"/><rect x="1097.8" y="711.1" width="1.1" height="1.1" fill="#fff"/></g>
<circle cx="1093.7" cy="712.0" r="9.95" fill="#fff" stroke="#f23645" stroke-width="1.3"/><clipPath id="c10937"><circle cx="1093.7" cy="712.0" r="7.9"/></clipPath><g clip-path="url(#c10937)"><rect x="1085.7" y="703.8" width="16" height="16.4" fill="#fff"/><rect x="1085.7" y="703.8" width="16" height="4.2" fill="#ef5350"/><rect x="1085.7" y="710.0" width="16" height="3.9" fill="#ef5350"/><rect x="1085.7" y="716.4" width="16" height="3.8" fill="#ef5350"/><rect x="1085.7" y="703.8" width="9.8" height="10.1" fill="#1e88e5"/><rect x="1087.5" y="705.9" width="1.1" height="1.1" fill="#fff"/><rect x="1090.4" y="705.9" width="1.1" height="1.1" fill="#fff"/><rect x="1092.9" y="705.9" width="1.1" height="1.1" fill="#fff"/><rect x="1087.5" y="708.4" width="1.1" height="1.1" fill="#fff"/><rect x="1090.4" y="708.4" width="1.1" height="1.1" fill="#fff"/><rect x="1092.9" y="708.4" width="1.1" height="1.1" fill="#fff"/><rect x="1087.5" y="711.1" width="1.1" height="1.1" fill="#fff"/><rect x="1090.4" y="711.1" width="1.1" height="1.1" fill="#fff"/><rect x="1092.9" y="711.1" width="1.1" height="1.1" fill="#fff"/></g>
<circle cx="1077.3" cy="712.0" r="9.95" fill="#fff" stroke="#f23645" stroke-width="1.3"/><clipPath id="c10773"><circle cx="1077.3" cy="712.0" r="7.9"/></clipPath><g clip-path="url(#c10773)"><rect x="1069.3" y="703.8" width="16" height="16.4" fill="#fff"/><rect x="1069.3" y="703.8" width="16" height="4.2" fill="#ef5350"/><rect x="1069.3" y="710.0" width="16" height="3.9" fill="#ef5350"/><rect x="1069.3" y="716.4" width="16" height="3.8" fill="#ef5350"/><rect x="1069.3" y="703.8" width="9.8" height="10.1" fill="#1e88e5"/><rect x="1071.1" y="705.9" width="1.1" height="1.1" fill="#fff"/><rect x="1074.0" y="705.9" width="1.1" height="1.1" fill="#fff"/><rect x="1076.5" y="705.9" width="1.1" height="1.1" fill="#fff"/><rect x="1071.1" y="708.4" width="1.1" height="1.1" fill="#fff"/><rect x="1074.0" y="708.4" width="1.1" height="1.1" fill="#fff"/><rect x="1076.5" y="708.4" width="1.1" height="1.1" fill="#fff"/><rect x="1071.1" y="711.1" width="1.1" height="1.1" fill="#fff"/><rect x="1074.0" y="711.1" width="1.1" height="1.1" fill="#fff"/><rect x="1076.5" y="711.1" width="1.1" height="1.1" fill="#fff"/></g>
<circle cx="1077.5" cy="687.3" r="9.7" fill="#fff" stroke="#9c27b0" stroke-width="1.45"/>
<path d="M1080.8 682L1073.3 687.9L1077.7 687.9L1074.4 692.8L1081.7 686.8L1077.4 686.8Z" fill="#9c27b0" stroke="#9c27b0" stroke-width="0.5" stroke-linejoin="round"/>
<g fill="#1e222d"><path d="M10 765h7.9v10h-4.1v-5.8H10z"/><circle cx="20.6" cy="767.1" r="2"/><path d="M23.7 765h5.9l-3.9 10h-4.7z"/></g>
</svg>
<div id="frame"></div><div id="ftop"></div>
<div id="vsep"></div><div id="hsep"></div>
<div id="plabel"></div>
<span class="t" id="t0" style="left:10.2px;top:8.34px;font-size:12px;color:#1c202b;font-weight:400;letter-spacing:-0.07px;">sulaymanbd25 published on TradingView.com, Jun 13, 2023 09:35 UTC</span>
<span class="t" id="t1" style="left:18.4px;top:35.04px;font-size:12px;color:#1c202b;font-weight:400;letter-spacing:-0.015px;">New Zealand Dollar / U.S. Dollar, 4h, FXCM</span>
<span class="t" id="t2" style="left:257.0px;top:35.04px;font-size:12px;color:#1c202b;font-weight:400;transform:scaleX(0.9);transform-origin:0 0;">O</span>
<span class="t" id="t3" style="left:265.9px;top:35.04px;font-size:12px;color:#ef5350;font-weight:400;letter-spacing:-0.299px;">0.61456</span>
<span class="t" id="t4" style="left:314.4px;top:35.04px;font-size:12px;color:#1c202b;font-weight:400;transform:scaleX(0.9);transform-origin:0 0;">H</span>
<span class="t" id="t5" style="left:322.6px;top:35.04px;font-size:12px;color:#ef5350;font-weight:400;letter-spacing:-0.234px;">0.61460</span>
<span class="t" id="t6" style="left:372.4px;top:35.04px;font-size:12px;color:#1c202b;font-weight:400;transform:scaleX(0.9);transform-origin:0 0;">L</span>
<span class="t" id="t7" style="left:378.0px;top:35.04px;font-size:12px;color:#ef5350;font-weight:400;letter-spacing:-0.316px;">0.61365</span>
<span class="t" id="t8" style="left:427.2px;top:35.04px;font-size:12px;color:#1c202b;font-weight:400;transform:scaleX(0.9);transform-origin:0 0;">C</span>
<span class="t" id="t9" style="left:435.0px;top:35.04px;font-size:12px;color:#ef5350;font-weight:400;letter-spacing:-0.3px;">0.61367</span>
<span class="t" id="t10" style="left:484.3px;top:35.04px;font-size:12px;color:#ef5350;font-weight:400;letter-spacing:-0.294px;">−0.00089 (−0.14%)</span>
<span class="t" id="t11" style="left:1502.0px;top:34.14px;font-size:12px;color:#1c202b;font-weight:400;transform:scaleX(0.81);transform-origin:0 0;">USD</span>
<span class="t" id="t12" style="left:1500.1px;top:76.44px;font-size:12px;color:#1c202b;font-weight:400;letter-spacing:-0.217px;">0.64000</span>
<span class="t" id="t13" style="left:1500.1px;top:147.94px;font-size:12px;color:#1c202b;font-weight:400;letter-spacing:-0.217px;">0.63500</span>
<span class="t" id="t14" style="left:1500.1px;top:219.44px;font-size:12px;color:#1c202b;font-weight:400;letter-spacing:-0.217px;">0.63000</span>
<span class="t" id="t15" style="left:1500.1px;top:290.94px;font-size:12px;color:#1c202b;font-weight:400;letter-spacing:-0.217px;">0.62500</span>
<span class="t" id="t16" style="left:1500.1px;top:362.44px;font-size:12px;color:#1c202b;font-weight:400;letter-spacing:-0.217px;">0.62000</span>
<span class="t" id="t17" style="left:1500.1px;top:433.94px;font-size:12px;color:#1c202b;font-weight:400;letter-spacing:-0.217px;">0.61500</span>
<span class="t" id="t18" style="left:1500.1px;top:505.44px;font-size:12px;color:#1c202b;font-weight:400;letter-spacing:-0.217px;">0.61000</span>
<span class="t" id="t19" style="left:1500.1px;top:576.94px;font-size:12px;color:#1c202b;font-weight:400;letter-spacing:-0.217px;">0.60500</span>
<span class="t" id="t20" style="left:1500.1px;top:648.44px;font-size:12px;color:#1c202b;font-weight:400;letter-spacing:-0.217px;">0.60000</span>
<span class="t c" id="t21" style="left:33.9px;top:732.34px;font-size:12px;color:#1c202b;font-weight:400;letter-spacing:-0.45px;">13</span>
<span class="t c" id="t22" style="left:128.0px;top:732.34px;font-size:12px;color:#1c202b;font-weight:400;letter-spacing:-0.45px;">21</span>
<span class="t c" id="t23" style="left:266.9px;top:732.34px;font-size:12px;color:#1c202b;font-weight:700;letter-spacing:-0.15px;">Apr</span>
<span class="t c" id="t24" style="left:347.9px;top:732.34px;font-size:12px;color:#1c202b;font-weight:400;letter-spacing:-0.45px;">10</span>
<span class="t c" id="t25" style="left:442.8px;top:732.34px;font-size:12px;color:#1c202b;font-weight:400;letter-spacing:-0.45px;">18</span>
<span class="t c" id="t26" style="left:583.8px;top:732.34px;font-size:12px;color:#1c202b;font-weight:700;letter-spacing:-0.15px;">May</span>
<span class="t c" id="t27" style="left:741.8px;top:732.34px;font-size:12px;color:#1c202b;font-weight:400;letter-spacing:-0.45px;">15</span>
<span class="t c" id="t28" style="left:835.9px;top:732.34px;font-size:12px;color:#1c202b;font-weight:400;letter-spacing:-0.45px;">23</span>
<span class="t c" id="t29" style="left:946.1px;top:732.34px;font-size:12px;color:#1c202b;font-weight:700;letter-spacing:-0.15px;">Jun</span>
<span class="t c" id="t30" style="left:1056.1px;top:732.34px;font-size:12px;color:#1c202b;font-weight:400;letter-spacing:-0.45px;">12</span>
<span class="t c" id="t31" style="left:1150.7px;top:732.34px;font-size:12px;color:#1c202b;font-weight:400;letter-spacing:-0.45px;">20</span>
<span class="t c" id="t32" style="left:1290.0px;top:732.34px;font-size:12px;color:#1c202b;font-weight:700;letter-spacing:-0.15px;">Jul</span>
<span class="t c" id="t33" style="left:1370.9px;top:732.34px;font-size:12px;color:#1c202b;font-weight:400;letter-spacing:-0.45px;">10</span>
<span class="t" id="t34" style="left:1499.9px;top:453.14px;font-size:12px;color:#ffffff;font-weight:700;letter-spacing:-0.317px;">0.61367</span>
<span class="t" id="t35" style="left:1500.0px;top:467.44px;font-size:12px;color:rgba(255,255,255,0.82);font-weight:700;letter-spacing:-0.258px;">03:24:39</span>
<span class="t" id="t36" style="left:33.0px;top:763.44px;font-size:13px;color:#1e222d;font-weight:400;letter-spacing:-0.14px;">TradingView</span>
</body></html>
